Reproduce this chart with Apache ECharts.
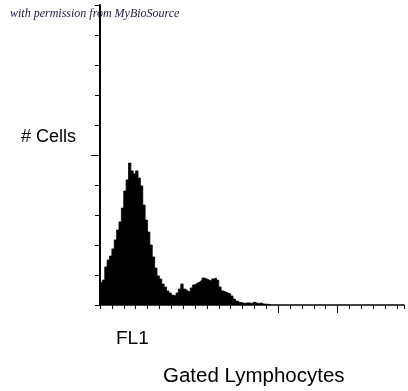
<!DOCTYPE html>
<html><head><meta charset="utf-8">
<script src="https://cdn.jsdelivr.net/npm/echarts@6/dist/echarts.min.js"></script>
<style>html,body{margin:0;padding:0;background:#fff}#c{width:408px;height:391px}</style>
</head><body><div id="c"></div>
<script>
// FL1 channel (bin start) and cell counts
var channels = [0,2,4,6,8,10,12,14,16,18,20,22,24,26,28,30,32,34,36,38,40,42,44,46,48,50,52,54,56,58,60,62,64,66,68,70,72,74,76,78,80,82,84,86,88,90,92,94,96,98,100,102,104,106,108,110,112,114,116,118,120,122,124,126,128,130,132,134,136,138,140,142,144];
var counts = [7.7,7.3,8.3,12.7,15,16.3,18.7,21.7,25,27.7,32.3,38,41.7,47.3,44.7,43.7,44.7,42.3,39.7,33.3,28.3,24.3,20,16,12.3,9.7,8.7,7,6,4.7,4,3.3,3,4,5.3,7,5.3,4.7,4.3,5.7,6.7,7.3,7.7,8.3,9,8.7,8.3,8,8.7,9,8.3,6,4.7,4.3,4,3.7,3,2,1.3,0.8,0.8,0.5,0.7,0.7,0.5,1,0.7,0.5,0.7,0.3,0.3,0.2,0];
var xMajorTicks = [150, 200];
var yMajorTicks = [50];
var yLabel = '# Cells';
var xLabel = 'FL1';
var subtitle = 'Gated Lymphocytes';
var watermark = 'with permission from MyBioSource';

var seriesData = channels.map(function(c, i){ return [c, counts[i]]; });
var chart = echarts.init(document.getElementById('c'), null, {renderer:'canvas'});
var grid = {left:100, top:5, width:304, height:300};
chart.setOption({
  animation:false,
  backgroundColor:'#fff',
  grid: grid,
  graphic:[
    {type:'text', left:10, top:8, style:{text:watermark, font:'italic 12px "Liberation Serif"', fill:'#1a1a40'}},
    {type:'text', left:21, top:128, style:{text:yLabel, font:'18px "Liberation Sans"', fill:'#000'}},
    {type:'text', left:116, top:329, style:{text:xLabel, font:'19px "Liberation Sans"', fill:'#000'}},
    {type:'text', left:163, top:366, style:{text:subtitle, font:'20.5px "Liberation Sans"', fill:'#000'}}
  ],
  xAxis:[
    {type:'value', min:0, max:256, interval:10, position:'bottom',
     axisLine:{show:true, lineStyle:{color:'#000', width:1.5}},
     axisTick:{show:true, inside:false, length:4, lineStyle:{color:'#000', width:1}},
     axisLabel:{show:false}, splitLine:{show:false}},
    {type:'value', min:0, max:256, position:'bottom',
     axisLine:{show:false},
     axisTick:{show:true, length:8, customValues:xMajorTicks, lineStyle:{color:'#000', width:1}},
     axisLabel:{show:false}, splitLine:{show:false}}
  ],
  yAxis:[
    {type:'value', min:0, max:100, interval:10, position:'left',
     axisLine:{show:true, lineStyle:{color:'#000', width:2}},
     axisTick:{show:true, length:5, lineStyle:{color:'#000', width:1}},
     axisLabel:{show:false}, splitLine:{show:false}},
    {type:'value', min:0, max:100, position:'left',
     axisLine:{show:false},
     axisTick:{show:true, length:9, customValues:yMajorTicks, lineStyle:{color:'#000', width:1}},
     axisLabel:{show:false}, splitLine:{show:false}}
  ],
  series:[{
    type:'line', data:seriesData, xAxisIndex:0, yAxisIndex:0,
    step:'start', symbol:'none',
    lineStyle:{color:'#000', width:0.8},
    areaStyle:{color:'#000', opacity:1}
  }]
});
</script></body></html>
